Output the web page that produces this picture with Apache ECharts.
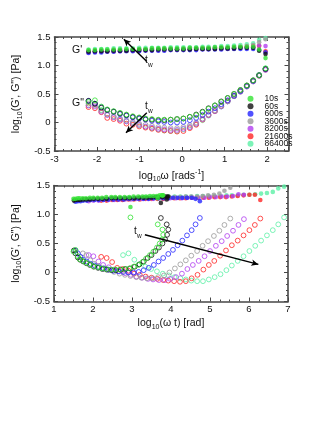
<!DOCTYPE html>
<html><head><meta charset="utf-8">
<script src="https://cdn.jsdelivr.net/npm/echarts@6/dist/echarts.min.js"></script>
<style>html,body{margin:0;padding:0;background:#fff}#c{width:332px;height:430px}</style>
</head><body><div id="c"></div>
<script>
// ---- legend / series names and colours ----
const NAMES = ['10s','60s','600s','3600s','8200s','21600s','86400s'];
const COLORS = ['#35e435','#111111','#2626ff','#9a9a9a','#b23ef0','#ff2626','#5cf0a6'];

// ---- top panel: log10 omega ----
const X_TOP = [-2.2,-2.05,-1.9,-1.76,-1.61,-1.46,-1.31,-1.16,-1.01,-0.86,-0.71,-0.56,-0.42,-0.27,-0.12,0.03,0.18,0.33,0.48,0.62,0.77,0.92,1.07,1.22,1.37,1.52,1.67,1.81,1.96];

// ---- log10 G' ----
const GP_10S    = [1.27,1.27,1.28,1.28,1.28,1.28,1.29,1.29,1.29,1.29,1.30,1.30,1.30,1.30,1.30,1.30,1.31,1.31,1.31,1.31,1.32,1.32,1.32,1.33,1.33,1.33,1.33,1.28,1.13];
const GP_60S    = [1.24,1.25,1.25,1.25,1.26,1.26,1.26,1.27,1.27,1.27,1.27,1.28,1.28,1.28,1.28,1.28,1.28,1.29,1.29,1.29,1.29,1.30,1.30,1.30,1.31,1.31,1.31,1.26,1.20];
const GP_600S   = [1.22,1.23,1.23,1.24,1.24,1.25,1.25,1.25,1.25,1.26,1.26,1.26,1.26,1.27,1.27,1.27,1.27,1.27,1.28,1.28,1.28,1.28,1.29,1.29,1.29,1.29,1.29,1.27,1.23];
const GP_3600S  = [1.25,1.26,1.26,1.26,1.27,1.27,1.27,1.28,1.28,1.28,1.28,1.29,1.29,1.29,1.29,1.29,1.30,1.30,1.30,1.30,1.31,1.31,1.31,1.32,1.33,1.34,1.36,1.41,1.46];
const GP_8200S  = [1.23,1.24,1.24,1.25,1.25,1.25,1.26,1.26,1.26,1.27,1.27,1.27,1.27,1.28,1.28,1.28,1.28,1.28,1.29,1.29,1.29,1.29,1.30,1.30,1.31,1.31,1.32,1.35,1.34];
const GP_21600S = [1.24,1.24,1.25,1.25,1.25,1.26,1.26,1.26,1.27,1.27,1.27,1.27,1.28,1.28,1.28,1.28,1.29,1.29,1.29,1.29,1.30,1.30,1.30,1.31,1.32,1.33,1.34,1.34,1.25];
const GP_86400S = [1.28,1.29,1.29,1.29,1.30,1.30,1.30,1.30,1.31,1.31,1.31,1.31,1.31,1.32,1.32,1.32,1.32,1.32,1.33,1.33,1.33,1.34,1.34,1.35,1.36,1.37,1.39,1.45,1.48];

// ---- log10 G'' ----
const GPP_10S    = [0.36,0.39,0.28,0.23,0.20,0.17,0.14,0.11,0.09,0.07,0.06,0.05,0.05,0.05,0.06,0.07,0.10,0.13,0.18,0.24,0.30,0.36,0.43,0.50,0.57,0.65,0.74,0.83,0.95];
const GPP_60S    = [0.38,0.33,0.26,0.22,0.19,0.16,0.13,0.10,0.08,0.06,0.05,0.04,0.04,0.05,0.06,0.07,0.10,0.14,0.19,0.25,0.30,0.37,0.43,0.50,0.57,0.65,0.74,0.83,0.94];
const GPP_600S   = [0.38,0.33,0.27,0.22,0.19,0.15,0.12,0.09,0.07,0.05,0.03,0.02,0.01,0.00,0.00,0.01,0.04,0.08,0.13,0.19,0.25,0.32,0.39,0.47,0.55,0.64,0.73,0.83,0.94];
const GPP_3600S  = [0.33,0.30,0.21,0.15,0.11,0.07,0.04,0.01,-0.02,-0.04,-0.06,-0.08,-0.09,-0.10,-0.10,-0.08,-0.05,0.00,0.07,0.14,0.21,0.29,0.37,0.46,0.54,0.63,0.72,0.82,0.93];
const GPP_8200S  = [0.30,0.28,0.19,0.13,0.09,0.05,0.02,-0.01,-0.04,-0.07,-0.09,-0.11,-0.12,-0.13,-0.13,-0.11,-0.08,-0.02,0.06,0.13,0.20,0.28,0.37,0.46,0.54,0.63,0.72,0.82,0.92];
const GPP_21600S = [0.27,0.25,0.18,0.08,0.06,0.03,-0.02,-0.04,-0.07,-0.09,-0.11,-0.13,-0.14,-0.15,-0.16,-0.15,-0.10,-0.04,0.05,0.13,0.20,0.29,0.38,0.47,0.55,0.64,0.73,0.82,0.93];
const GPP_86400S = [0.30,0.33,0.22,0.14,0.10,0.06,0.02,-0.02,-0.05,-0.08,-0.10,-0.12,-0.14,-0.15,-0.15,-0.12,-0.08,-0.03,0.04,0.12,0.20,0.28,0.37,0.46,0.55,0.64,0.73,0.83,0.95];

// ---- bottom panel: log10(omega t) for each point ----
const XB_10S    = [1.50,1.55,1.61,1.66,1.74,1.82,1.92,2.01,2.12,2.23,2.34,2.47,2.57,2.69,2.81,2.93,3.04,3.16,3.27,3.36,3.46,3.55,3.64,3.71,3.77,3.80,3.78,3.66,2.96];
const XB_60S    = [1.51,1.55,1.61,1.67,1.75,1.83,1.92,2.02,2.13,2.24,2.35,2.48,2.59,2.71,2.83,2.95,3.07,3.19,3.30,3.40,3.50,3.60,3.69,3.78,3.85,3.90,3.93,3.89,3.74];
const XB_600S   = [1.55,1.61,1.68,1.75,1.84,1.94,2.04,2.15,2.27,2.39,2.52,2.65,2.78,2.91,3.04,3.17,3.30,3.43,3.56,3.68,3.80,3.93,4.05,4.17,4.29,4.41,4.53,4.63,4.74];
const XB_3600S  = [1.74,1.83,1.93,2.03,2.15,2.28,2.41,2.54,2.68,2.82,2.96,3.11,3.24,3.38,3.53,3.67,3.82,3.96,4.10,4.24,4.38,4.52,4.67,4.81,4.95,5.10,5.24,5.37,5.52];
const XB_8200S  = [1.89,2.01,2.14,2.26,2.40,2.54,2.68,2.82,2.97,3.11,3.26,3.41,3.54,3.69,3.84,3.98,4.13,4.28,4.42,4.56,4.71,4.86,5.00,5.15,5.30,5.44,5.59,5.73,5.87];
const XB_21600S = [2.21,2.35,2.49,2.62,2.76,2.91,3.05,3.20,3.35,3.50,3.65,3.80,3.93,4.08,4.23,4.38,4.53,4.68,4.83,4.97,5.11,5.26,5.41,5.56,5.71,5.86,6.01,6.15,6.29];
const XB_86400S = [2.77,2.91,3.06,3.19,3.34,3.49,3.64,3.79,3.94,4.09,4.24,4.38,4.52,4.67,4.82,4.97,5.12,5.27,5.42,5.56,5.71,5.86,6.01,6.16,6.31,6.46,6.61,6.75,6.90];

// ---- annotation arrows (data coordinates) ----
const ARROW_GP  = [[-1.37,1.46],[-0.83,1.07]];
const ARROW_GPP = [[-1.32,-0.18],[-0.83,0.17]];
const ARROW_BOT = [[3.33,0.65],[6.24,0.14]];

const GP  = [GP_10S,GP_60S,GP_600S,GP_3600S,GP_8200S,GP_21600S,GP_86400S];
const GPP = [GPP_10S,GPP_60S,GPP_600S,GPP_3600S,GPP_8200S,GPP_21600S,GPP_86400S];
const XB  = [XB_10S,XB_60S,XB_600S,XB_3600S,XB_8200S,XB_21600S,XB_86400S];

const FONT = '"Liberation Sans Narrow","Arial Narrow","Liberation Sans",Arial,sans-serif';
const AX = '#474747';
const zip = (xs, ys) => xs.map((x, i) => [x, ys[i]]);

function axis(kind, gi, pos, min, max, interval, minorSplit, labels) {
  return {
    type: 'value', gridIndex: gi, position: pos, min: min, max: max, interval: interval,
    axisLine: {show: true, onZero: false, lineStyle: {color: AX, width: 1.6}},
    axisTick: {show: true, inside: true, length: 4, lineStyle: {color: AX, width: 1}},
    minorTick: {show: true, splitNumber: minorSplit, length: 2, lineStyle: {color: AX, width: 1}},
    splitLine: {show: false}, minorSplitLine: {show: false},
    axisLabel: labels ? Object.assign({show: true, color: '#111', fontFamily: FONT, fontSize: 9.5,
      margin: kind === 'x' ? 3 : 4, showMaxLabel: kind === 'x' && max === 2.5 ? false : true}, labels) : {show: false}
  };
}
const yFmt = v => (v === 0 ? '0' : v.toFixed(1));
const RICH = {
  a: {fontFamily: FONT, fontSize: 10.5, color: '#111', lineHeight: 14},
  s: {fontFamily: FONT, fontSize: 7, color: '#111', lineHeight: 8, verticalAlign: 'bottom'},
  p: {fontFamily: FONT, fontSize: 7, color: '#111', lineHeight: 8, verticalAlign: 'top'}
};
const xA0 = axis('x', 0, 'bottom', -3, 2.5, 1, 5, {});
Object.assign(xA0, {name: '{a|log}{s|10}{a|ω [rads}{p|-1}{a|]}', nameLocation: 'middle', nameGap: 18, nameTextStyle: {rich: RICH}});
const xA2 = axis('x', 1, 'bottom', 1, 7, 1, 4, {});
Object.assign(xA2, {name: '{a|log}{s|10}{a|(ω t) [rad]}', nameLocation: 'middle', nameGap: 15, nameTextStyle: {rich: RICH}});
const yA0 = axis('y', 0, 'left', -0.5, 1.5, 0.5, 5, {formatter: yFmt});
Object.assign(yA0, {name: '{a|log}{s|10}{a|(G\', G") [Pa]}', nameLocation: 'middle', nameGap: 24.5, nameRotate: 90, nameTextStyle: {rich: RICH}});
const yA2 = axis('y', 1, 'left', -0.5, 1.5, 0.5, 5, {formatter: yFmt});
Object.assign(yA2, {name: '{a|log}{s|10}{a|(G\', G") [Pa]}', nameLocation: 'middle', nameGap: 24.5, nameRotate: 90, nameTextStyle: {rich: RICH}});

const ORDER = [6,5,4,3,2,1,0];
const series = [];
const filled = (k, data, xi) => ({type: 'scatter', name: NAMES[k], xAxisIndex: xi, yAxisIndex: xi, data: data,
  symbol: 'circle', symbolSize: 4.6, itemStyle: {color: COLORS[k]}, emphasis: {disabled: true}});
const open = (k, data, xi) => ({type: 'scatter', name: NAMES[k], xAxisIndex: xi, yAxisIndex: xi, data: data,
  symbol: 'circle', symbolSize: 4.8, itemStyle: {color: 'rgba(255,255,255,0)', borderColor: COLORS[k], borderWidth: 1}, emphasis: {disabled: true}});
ORDER.forEach(k => series.push(filled(k, zip(X_TOP, GP[k]), 0)));
ORDER.forEach(k => series.push(open(k, zip(X_TOP, GPP[k]), 0)));
ORDER.forEach(k => series.push(filled(k, zip(XB[k], GP[k]), 2)));
ORDER.forEach(k => series.push(open(k, zip(XB[k], GPP[k]), 2)));

const arrowHost = (xi, lines) => ({type: 'scatter', name: 'arrows' + xi, xAxisIndex: xi, yAxisIndex: xi, data: [],
  markLine: {silent: true, animation: false, symbolSize: [5, 7], label: {show: false},
    lineStyle: {color: '#000', width: 1.4, type: 'solid'},
    data: lines}});
series.push(arrowHost(0, [
  [{coord: ARROW_GP[0], symbol: 'arrow'}, {coord: ARROW_GP[1], symbol: 'none'}],
  [{coord: ARROW_GPP[0], symbol: 'arrow'}, {coord: ARROW_GPP[1], symbol: 'none'}]
]));
series.push(arrowHost(2, [
  [{coord: ARROW_BOT[0], symbol: 'none'}, {coord: ARROW_BOT[1], symbol: 'arrow'}]
]));

const txt = (x, y, text, size) => ({type: 'text', x: x, y: y, style: {text: text, fill: '#111', font: size + 'px ' + FONT, verticalAlign: 'middle'}});
const tw = (x, y) => ({type: 'group', children: [txt(x, y, 't', 10), txt(x + 3, y + 5, 'w', 6.5)]});

const option = {
  animation: false,
  backgroundColor: '#fff',
  grid: [
    {left: 54.5, top: 37, width: 234, height: 114, show: false},
    {left: 54, top: 185.5, width: 234, height: 116, show: false}
  ],
  xAxis: [xA0, axis('x', 0, 'top', -3, 2.5, 1, 5, null), xA2, axis('x', 1, 'top', 1, 7, 1, 4, null)],
  yAxis: [yA0, axis('y', 0, 'right', -0.5, 1.5, 0.5, 5, null), yA2, axis('y', 1, 'right', -0.5, 1.5, 0.5, 5, null)],
  legend: {
    data: NAMES, orient: 'vertical', left: 247.5, top: 94.3, icon: 'circle',
    itemWidth: 6, itemHeight: 6, itemGap: -1.5, padding: 0, selectedMode: false,
    textStyle: {fontFamily: FONT, fontSize: 8.5, color: '#111', padding: [0, 0, 0, 6]}
  },
  graphic: [
    txt(72, 50, "G'", 10.5),
    txt(72, 102.7, 'G"', 10.5),
    tw(145, 60.5),
    tw(145, 106.5),
    tw(134, 231.5)
  ],
  series: series
};
const chart = echarts.init(document.getElementById('c'), null, {renderer: 'canvas', width: 332, height: 430});
chart.setOption(option);
</script>
</body></html>
